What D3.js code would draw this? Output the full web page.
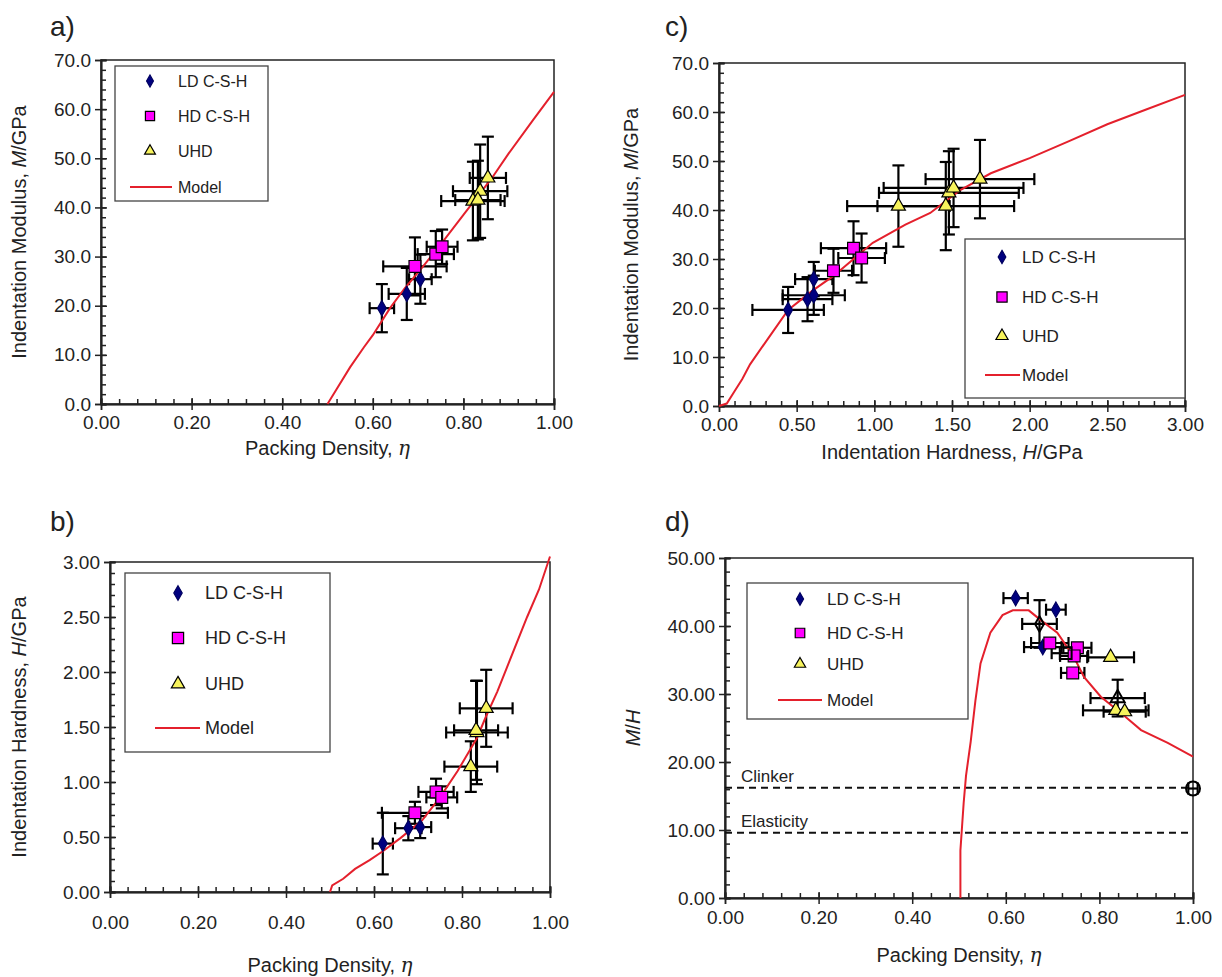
<!DOCTYPE html>
<html><head><meta charset="utf-8">
<script src="https://cdn.jsdelivr.net/npm/d3@7.9.0/dist/d3.min.js"></script>
<style>
body{margin:0;background:#fff;}
svg{font-family:"Liberation Sans",Arial,sans-serif;}
</style></head><body>
<svg id="fig" width="1222" height="977"></svg>
<script>
// each point: [x, y, xError, yError]
// a) packing density vs indentation modulus
const aLD  = [[0.62, 19.5, 0.027, 4.9], [0.675, 22.4, 0.04, 5.3], [0.705, 25.4, 0.025, 5.0]];
const aHD  = [[0.693, 28.0, 0.07, 5.9], [0.739, 30.5, 0.04, 4.7], [0.753, 32.0, 0.034, 3.5]];
const aUHD = [[0.854, 46.0, 0.04, 8.4], [0.837, 43.3, 0.06, 9.5], [0.821, 41.3, 0.07, 8.0], [0.832, 41.5, 0.05, 8.0]];
const aModel = [[0.50, 0], [0.52, 3], [0.55, 7.5], [0.58, 11.5], [0.60, 14], [0.638, 19.5], [0.67, 23.5],
  [0.711, 28], [0.75, 32.5], [0.80, 38.5], [0.863, 46], [0.90, 51], [0.954, 57.8], [1.0, 63.5]];

// b) packing density vs indentation hardness
const bLD  = [[0.62, 0.44, 0.023, 0.28], [0.678, 0.58, 0.03, 0.11], [0.705, 0.59, 0.025, 0.10]];
const bHD  = [[0.693, 0.72, 0.075, 0.10], [0.741, 0.91, 0.04, 0.12], [0.754, 0.86, 0.035, 0.10]];
const bUHD = [[0.855, 1.67, 0.06, 0.35], [0.834, 1.45, 0.07, 0.47], [0.82, 1.14, 0.06, 0.23], [0.832, 1.47, 0.05, 0.45]];
const bModel = [[0.50, 0], [0.505, 0.06], [0.53, 0.12], [0.557, 0.21], [0.59, 0.29], [0.62, 0.37], [0.66, 0.49],
  [0.709, 0.65], [0.75, 0.86], [0.79, 1.10], [0.834, 1.40], [0.855, 1.60], [0.88, 1.82], [0.902, 2.04],
  [0.948, 2.50], [0.975, 2.75], [1.0, 3.05]];

// c) indentation hardness vs indentation modulus
const cLD  = [[0.445, 19.6, 0.23, 4.7], [0.57, 21.8, 0.16, 4.5], [0.61, 22.6, 0.2, 4.0], [0.61, 25.9, 0.12, 3.5]];
const cHD  = [[0.737, 27.6, 0.12, 4.5], [0.866, 32.2, 0.21, 5.5], [0.918, 30.2, 0.15, 5.0]];
const cUHD = [[1.155, 40.8, 0.33, 8.3], [1.46, 40.8, 0.44, 9.0], [1.48, 43.5, 0.45, 8.5], [1.51, 44.5, 0.45, 8.0], [1.68, 46.3, 0.35, 8.0]];
const cModel = [[0, 0], [0.05, 0.5], [0.1, 3], [0.15, 5.5], [0.2, 8.5], [0.31, 13.5], [0.445, 19.6], [0.6, 23.5],
  [0.735, 26.5], [0.99, 33.3], [1.2, 37], [1.36, 39.4], [1.55, 44], [1.75, 47.5], [2.0, 50.6], [2.25, 54],
  [2.5, 57.5], [2.75, 60.5], [3.0, 63.5]];

// d) packing density vs M/H
const dLD  = [[0.621, 44.1, 0.026, 0], [0.707, 42.4, 0.021, 0], [0.679, 36.9, 0.04, 0]];
const dHD  = [[0.694, 37.5, 0.04, 0], [0.753, 36.8, 0.03, 0], [0.746, 35.6, 0.03, 0], [0.743, 33.1, 0.025, 0]];
const dUHD = [[0.824, 35.4, 0.05, 0], [0.835, 27.6, 0.07, 0], [0.854, 27.4, 0.045, 0]];
const dOpen = [[0.672, 40.3, 0.037, 3.5, 'diamond'], [0.728, 36.0, 0.03, 0, 'square'], [0.839, 29.4, 0.058, 2.7, 'triangle']];
const dClinkerPt = [[1.0, 16.1, 0.01, 0]];
const dModel = [[0.503, 0], [0.503, 7], [0.506, 10], [0.51, 14], [0.515, 18], [0.525, 23], [0.535, 29],
  [0.546, 34.5], [0.567, 39], [0.593, 41.6], [0.615, 42.3], [0.649, 42.3], [0.674, 40.9], [0.71, 39],
  [0.745, 35.5], [0.767, 32.5], [0.803, 29.6], [0.846, 27.2], [0.889, 24.7], [0.946, 22.8], [1.0, 20.8]];
const dRefLines = [['Clinker', 16.2], ['Elasticity', 9.6]];

const legendNames = ['LD C-S-H', 'HD C-S-H', 'UHD', 'Model'];

const svg = d3.select('#fig');
const ink = '#222';

function ticks(lo, hi, step) {
  return d3.range(0, Math.round((hi - lo) / step) + 1).map(i => +(lo + i * step).toFixed(4));
}

function drawPanel(p) {
  const x = d3.scaleLinear().domain(p.xDomain).range([p.left, p.right]);
  const y = d3.scaleLinear().domain(p.yDomain).range([p.bottom, p.top]);
  const g = svg.append('g');

  g.append('rect')
    .attr('x', p.left).attr('y', p.top)
    .attr('width', p.right - p.left).attr('height', p.bottom - p.top)
    .attr('fill', 'none').attr('stroke', ink).attr('stroke-width', 1.5);

  const xMajor = ticks(p.xDomain[0], p.xDomain[1], p.xStep);
  const xMinor = ticks(p.xDomain[0], p.xDomain[1], p.xStep / 5);
  const yMajor = ticks(p.yDomain[0], p.yDomain[1], p.yStep);
  const yMinor = ticks(p.yDomain[0], p.yDomain[1], p.yStep / 5);

  const axes = [
    d3.axisBottom(x).tickValues(xMinor).tickSize(-5).tickFormat(''),
    d3.axisBottom(x).tickValues(xMajor).tickSize(-6).tickFormat(''),
    d3.axisBottom(x).tickValues(xMajor).tickSize(6).tickPadding(p.xPad).tickFormat(d3.format('.2f'))
  ];
  axes.forEach(ax => {
    g.append('g').attr('transform', `translate(0,${p.bottom})`).call(ax);
  });
  const yaxes = [
    d3.axisLeft(y).tickValues(yMinor).tickSize(-5).tickFormat(''),
    d3.axisLeft(y).tickValues(yMajor).tickSize(-6).tickFormat(''),
    d3.axisLeft(y).tickValues(yMajor).tickSize(6).tickPadding(4).tickFormat(d3.format(p.yFmt))
  ];
  yaxes.forEach(ax => {
    g.append('g').attr('transform', `translate(${p.left},0)`).call(ax);
  });
  g.selectAll('.domain').attr('stroke', ink).attr('stroke-width', 1.5);
  g.selectAll('.tick line').attr('stroke', ink).attr('stroke-width', 1.5);
  g.selectAll('.tick text').attr('font-size', 19).attr('fill', ink)
    .attr('font-family', '"Liberation Sans",Arial,sans-serif');

  // reference lines (panel d)
  (p.refLines || []).forEach(([name, v]) => {
    g.append('line').attr('x1', p.left).attr('x2', p.right).attr('y1', y(v)).attr('y2', y(v))
      .attr('stroke', '#111').attr('stroke-width', 2).attr('stroke-dasharray', '7,5');
    g.append('text').attr('x', p.left + 16).attr('y', y(v) - 6)
      .attr('font-size', 17).attr('fill', ink).text(name);
  });

  // error bars
  const eb = g.append('g').attr('stroke', '#000').attr('stroke-width', 2.2).attr('fill', 'none');
  const allPts = p.series.flatMap(s => s.data).concat(p.open || []).concat(p.ref || []);
  const cap = 6;
  allPts.forEach(d => {
    const cx = x(d[0]), cy = y(d[1]);
    if (d[2] > 0) {
      const x0 = x(d[0] - d[2]), x1 = x(d[0] + d[2]);
      eb.append('line').attr('x1', x0).attr('x2', x1).attr('y1', cy).attr('y2', cy);
      eb.append('line').attr('x1', x0).attr('x2', x0).attr('y1', cy - cap).attr('y2', cy + cap);
      eb.append('line').attr('x1', x1).attr('x2', x1).attr('y1', cy - cap).attr('y2', cy + cap);
    }
    if (d[3] > 0) {
      const y0 = y(d[1] - d[3]), y1 = y(d[1] + d[3]);
      eb.append('line').attr('x1', cx).attr('x2', cx).attr('y1', y0).attr('y2', y1);
      eb.append('line').attr('x1', cx - cap).attr('x2', cx + cap).attr('y1', y0).attr('y2', y0);
      eb.append('line').attr('x1', cx - cap).attr('x2', cx + cap).attr('y1', y1).attr('y2', y1);
    }
  });

  // model curve
  g.append('path').datum(p.model)
    .attr('d', d3.line().x(d => x(d[0])).y(d => y(d[1])))
    .attr('fill', 'none').attr('stroke', '#e4202c').attr('stroke-width', 2);

  // markers
  p.series.forEach(s => {
    g.selectAll(null).data(s.data).join('path')
      .attr('transform', d => `translate(${x(d[0])},${y(d[1])})`)
      .attr('d', d3.symbol(s.type, s.size))
      .attr('fill', s.fill).attr('stroke', s.stroke).attr('stroke-width', 1.2);
  });
  (p.open || []).forEach(d => {
    const s = markers[d[4]];
    g.append('path').attr('transform', `translate(${x(d[0])},${y(d[1])})`)
      .attr('d', d3.symbol(s.type, s.size)).attr('fill', 'none').attr('stroke', '#000').attr('stroke-width', 2);
  });
  (p.ref || []).forEach(d => {
    g.append('circle').attr('cx', x(d[0])).attr('cy', y(d[1])).attr('r', 7)
      .attr('fill', 'none').attr('stroke', '#000').attr('stroke-width', 2);
  });

  // legend
  const L = p.legend;
  g.append('rect').attr('x', L.box[0]).attr('y', L.box[1])
    .attr('width', L.box[2] - L.box[0]).attr('height', L.box[3] - L.box[1])
    .attr('fill', '#fff').attr('stroke', '#444').attr('stroke-width', 1.3);
  legendNames.forEach((name, i) => {
    const ry = L.rows[i];
    if (i < 3) {
      const s = p.series[i];
      g.append('path').attr('transform', `translate(${L.symX},${ry})`)
        .attr('d', d3.symbol(s.type, s.size * L.symScale))
        .attr('fill', s.fill).attr('stroke', s.stroke).attr('stroke-width', 1.2);
    } else {
      g.append('line').attr('x1', L.line[0]).attr('x2', L.line[1]).attr('y1', ry).attr('y2', ry)
        .attr('stroke', '#e4202c').attr('stroke-width', 2);
    }
    g.append('text').attr('x', L.textX).attr('y', ry).attr('dy', '0.35em')
      .attr('font-size', L.fs).attr('fill', ink).text(name);
  });

  // axis titles
  const xt = g.append('text').attr('x', (p.left + p.right) / 2).attr('y', p.xTitleY)
    .attr('text-anchor', 'middle').attr('font-size', 20).attr('fill', ink);
  p.xTitle.forEach(([t, it]) => xt.append('tspan').attr('font-style', it ? 'italic' : null)
    .attr('font-family', it && t === 'η' ? '"DejaVu Serif",serif' : null).text(t));
  const yt = g.append('text')
    .attr('transform', `translate(${p.yTitleX},${(p.top + p.bottom) / 2}) rotate(-90)`)
    .attr('text-anchor', 'middle').attr('font-size', 20).attr('fill', ink);
  p.yTitle.forEach(([t, it]) => yt.append('tspan').attr('font-style', it ? 'italic' : null).text(t));

  svg.append('text').attr('x', p.tag[0]).attr('y', p.tag[1]).attr('font-size', 28).attr('fill', ink).text(p.tag[2]);
}

const markers = {
  diamond: {type: d3.symbolDiamond, size: 68, fill: '#000080', stroke: '#000060'},
  square: {type: d3.symbolSquare, size: 140, fill: '#ff00ff', stroke: '#000'},
  triangle: {type: d3.symbolTriangle, size: 85, fill: '#f7f35c', stroke: '#000'}
};
const trio = (ld, hd, uhd) => [
  {data: ld, ...markers.diamond}, {data: hd, ...markers.square}, {data: uhd, ...markers.triangle}
];
const etaTitle = [['Packing Density,  ', false], ['η', true]];

drawPanel({
  left: 101, right: 554, top: 60, bottom: 404, xDomain: [0, 1], yDomain: [0, 70], xStep: 0.2, yStep: 10,
  yFmt: '.1f', xPad: 6, series: trio(aLD, aHD, aUHD), model: aModel,
  legend: {box: [115, 66, 268, 201], rows: [81, 116, 151, 187], symX: 150, textX: 178, line: [130, 172], fs: 16, symScale: 0.6},
  xTitle: etaTitle, xTitleY: 455, yTitle: [['Indentation Modulus, ', false], ['M', true], ['/GPa', false]], yTitleX: 26,
  tag: [50, 36, 'a)']
});
drawPanel({
  left: 719, right: 1185, top: 63, bottom: 406, xDomain: [0, 3], yDomain: [0, 70], xStep: 0.5, yStep: 10,
  yFmt: '.1f', xPad: 6, series: trio(cLD, cHD, cUHD), model: cModel,
  legend: {box: [965, 239, 1185, 398], rows: [257, 297, 336, 375], symX: 1002, textX: 1022, line: [985, 1020], fs: 17, symScale: 0.75},
  xTitle: [['Indentation Hardness, ', false], ['H', true], ['/GPa', false]], xTitleY: 459,
  yTitle: [['Indentation Modulus, ', false], ['M', true], ['/GPa', false]], yTitleX: 638,
  tag: [665, 36, 'c)']
});
drawPanel({
  left: 110, right: 550, top: 562, bottom: 892, xDomain: [0, 1], yDomain: [0, 3], xStep: 0.2, yStep: 0.5,
  yFmt: '.2f', xPad: 18, series: trio(bLD, bHD, bUHD), model: bModel,
  legend: {box: [125, 573, 330, 752], rows: [593, 638, 684, 728], symX: 178, textX: 205, line: [155, 200], fs: 18, symScale: 0.9},
  xTitle: etaTitle, xTitleY: 972, yTitle: [['Indentation Hardness, ', false], ['H', true], ['/GPa', false]], yTitleX: 26,
  tag: [50, 531, 'b)']
});
drawPanel({
  left: 725, right: 1193, top: 558, bottom: 898, xDomain: [0, 1], yDomain: [0, 50], xStep: 0.2, yStep: 10,
  yFmt: '.2f', xPad: 7, series: trio(dLD, dHD, dUHD), model: dModel, open: dOpen, ref: dClinkerPt, refLines: dRefLines,
  legend: {box: [747, 583, 968, 719], rows: [599, 633, 664, 700], symX: 800, textX: 827, line: [778, 822], fs: 17, symScale: 0.65},
  xTitle: etaTitle, xTitleY: 962, yTitle: [['M', true], ['/', false], ['H', true]], yTitleX: 640,
  tag: [665, 531, 'd)']
});
</script>
</body></html>
